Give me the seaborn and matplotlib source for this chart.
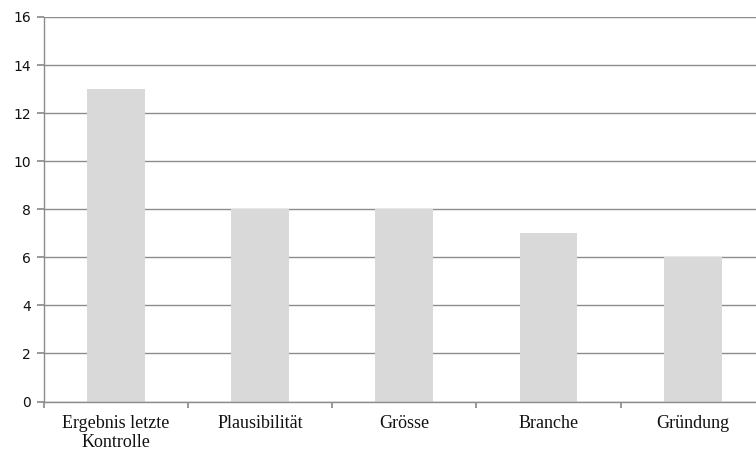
import matplotlib
matplotlib.use("Agg")
import matplotlib.pyplot as plt
from matplotlib.ticker import FixedLocator, NullFormatter
import seaborn as sns
import pandas as pd

categories = ["Ergebnis letzte\nKontrolle", "Plausibilität", "Grösse", "Branche", "Gründung"]
values = [13, 8, 8, 7, 6]
y_ticks = [0, 2, 4, 6, 8, 10, 12, 14, 16]

df = pd.DataFrame({"Kriterium": categories, "Anzahl": values})

sns.set_theme(style="white")
fig = plt.figure(figsize=(7.56, 4.5), dpi=100)
# plot area runs slightly past the right edge of the canvas
left_px, right_px, top_px, bottom_px = 43.5, 765.0, 17.0, 401.5
ax = fig.add_axes([left_px / 756, (450 - bottom_px) / 450,
                   (right_px - left_px) / 756, (bottom_px - top_px) / 450])

grid_c = "#8c8c8c"
sns.barplot(data=df, x="Kriterium", y="Anzahl", color="#d9d9d9", width=0.40,
            saturation=1, linewidth=0, ax=ax, zorder=2)

ax.set_ylim(0, 16)
ax.set_xlim(-0.5, len(categories) - 0.5)
ax.set_yticks(y_ticks)
ax.set_yticklabels([str(t) for t in y_ticks], fontsize=10, family="DejaVu Sans", color="#111111")
ax.yaxis.grid(True, color=grid_c, linewidth=1, zorder=0)
ax.set_axisbelow(True)

# category boundaries carry the tick marks, centers carry the labels
n = len(categories)
ax.xaxis.set_major_locator(FixedLocator([i - 0.5 for i in range(n + 1)]))
ax.xaxis.set_major_formatter(NullFormatter())
ax.xaxis.set_minor_locator(FixedLocator(list(range(n))))
ax.set_xticklabels(categories, minor=True, fontsize=13, family="Liberation Serif",
                   color="#111111", linespacing=1.1)
ax.tick_params(axis="x", which="major", direction="out", length=4, color=grid_c, bottom=True)
ax.tick_params(axis="x", which="minor", length=0, pad=10)
ax.tick_params(axis="y", direction="out", length=5, color=grid_c, left=True, pad=4)

ax.set_xlabel("")
ax.set_ylabel("")
for side in ["top", "right"]:
    ax.spines[side].set_visible(False)
for side in ["left", "bottom"]:
    ax.spines[side].set_color(grid_c)
    ax.spines[side].set_linewidth(1)

fig.savefig("out.png", dpi=100)
